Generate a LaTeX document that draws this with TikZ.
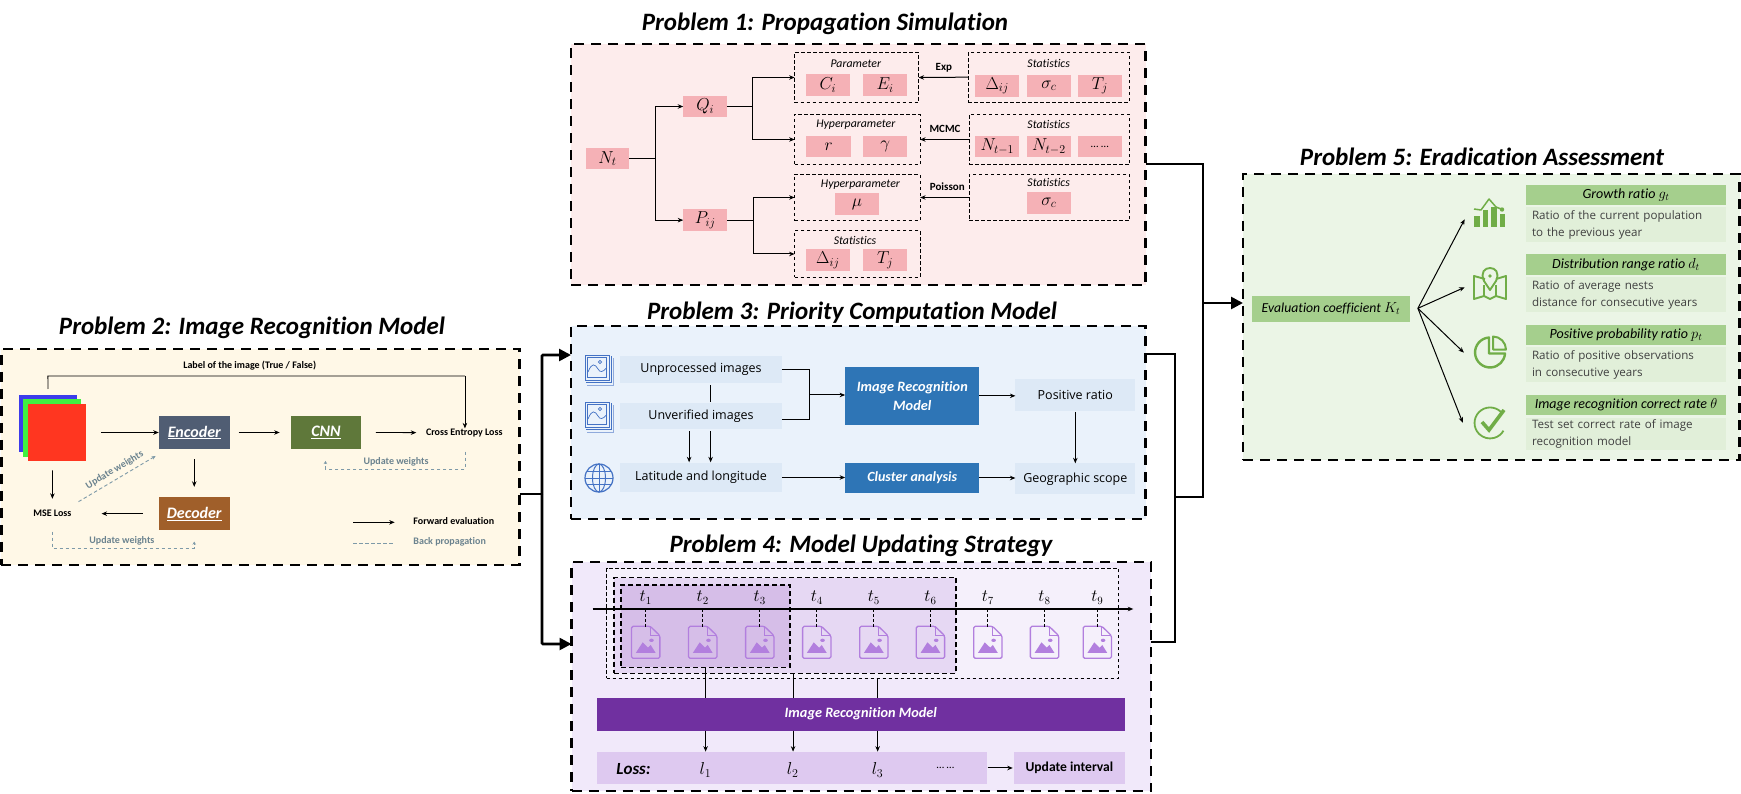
\documentclass[tikz,border=0pt]{standalone}
\usepackage{fontspec}
\setmainfont{Carlito}[Ligatures=NoCommon]
\newfontfamily\bodyf{Open Sans}
\usetikzlibrary{arrows.meta,calc}
\newcommand\fsz[1]{\fontsize{#1}{17}\selectfont}
\def\xf{1}\def\yf{1}
% [style]{name}{x1}{y1}{x2}{y2}{text}
\newcommand\bx[7][]{\node[boxbase,#1,minimum width={(#5-#3)*\xf*1pt},minimum height={(#6-#4)*\yf*1pt}] (#2) at ({(#3+#5)/2},{(#4+#6)/2}) {#7};}
\definecolor{pinkbg}{HTML}{FDECEC}\definecolor{pinkbox}{HTML}{F5B1B6}
\definecolor{yelbg}{HTML}{FFF8E7}\definecolor{blubg}{HTML}{EAF2FB}\definecolor{blulight}{HTML}{DDE9F6}
\definecolor{blubox}{HTML}{2E75B6}\definecolor{purbg}{HTML}{F1E9FA}\definecolor{purbar}{HTML}{7030A0}
\definecolor{purlight}{HTML}{DEC9F0}\definecolor{purmid}{HTML}{E6D8F3}\definecolor{purdark}{HTML}{D6BEE8}
\definecolor{purico}{HTML}{B27FDE}\definecolor{grnbg}{HTML}{EBF5E6}\definecolor{grnbox}{HTML}{A5CF8D}
\definecolor{grnlight}{HTML}{E1EFD9}\definecolor{grnico}{HTML}{70AD47}\definecolor{upd}{HTML}{7E9AA8}
\definecolor{icoblue}{HTML}{4472C4}
\tikzset{
 boxbase/.style={inner sep=0pt,outer sep=0pt,font=\fsz{12}},
 panel/.style={draw=black,line width=2.8pt,dash pattern=on 10pt off 7pt},
 ptitle/.style={inner sep=0pt,font=\fsz{25}\bfseries\itshape},
 pinkb/.style={fill=pinkbox,font=\fsz{16.5}},
 dgrp/.style={draw=black,line width=.9pt,dash pattern=on 3.5pt off 2.5pt},
 glab/.style={inner sep=0pt,font=\fsz{11.8}\itshape},
 arrlab/.style={inner sep=0pt,font=\fsz{11}\bfseries},
 arr/.style={-{Stealth[length=5.5pt,width=4.5pt]},line width=1pt},
 line1/.style={line width=1pt},
 bigline/.style={line width=2.6pt},
 bigarr/.style={bigline,-{Triangle[length=12pt,width=12pt]}},
 updl/.style={draw=upd,line width=.9pt,dash pattern=on 3.5pt off 2.5pt},
 updt/.style={inner sep=0pt,text=upd!85!black,font=\fsz{10}\bfseries},
 small/.style={inner sep=0pt,font=\fsz{10}\bfseries},
 wtitle/.style={text=white,font=\fsz{16}\bfseries\itshape},
 blutxt/.style={fill=blulight,font=\fsz{12.5}\bodyf},
 bluebx/.style={fill=blubox,text=white,align=center,font=\fsz{14.3}\bfseries\itshape},
 grnhead/.style={fill=grnbox,font=\fsz{14}\itshape},
 grnt/.style={fill=grnlight,align=left,text width=188pt,font=\fsz{11.6}\bodyf,text=black!75},
 docicon/.pic={
  \draw[purico,line width=1.3pt,line join=round,rounded corners=1.5pt] (-37,-48) -- (12,-48) -- (37,-20) -- (37,48) -- (-37,48) -- cycle;
  \draw[purico,line width=1.1pt] (12,-48) -- (12,-20) -- (37,-20);
  \fill[purico] (-26,32) -- (-8,0) -- (6,16) -- (13,8) -- (26,32) -- cycle;
  \fill[purico] (15,-6) circle[x radius=6,y radius=5];
 },
 stackicon/.pic={
  \draw[icoblue,line width=.8pt] (-14,-15) rectangle (10,10);
  \draw[icoblue,line width=.6pt] (-11.5,-12.5) rectangle (7.5,7.5);
  \draw[icoblue,line width=.7pt] (12.5,-14) -- (12.5,12.5) -- (-13,12.5);
  \draw[icoblue!60,line width=.7pt] (14.5,-12) -- (14.5,15) -- (-12,15);
  \draw[icoblue,line width=.7pt] (-11,2) .. controls (-7,-8) and (-4,-6) .. (-1,-1) .. controls (1,3) and (4,2) .. (7.5,-2);
  \draw[icoblue,line width=.6pt] (1,-8) circle[radius=1.6];
 },
 globeicon/.pic={
  \draw[icoblue,line width=1.2pt] (0,0) circle[radius=14];
  \draw[icoblue,line width=1pt] (0,0) ellipse[x radius=6.5,y radius=14];
  \draw[icoblue,line width=1pt] (0,-14) -- (0,14) (-14,0) -- (14,0) (-12,-6.5) -- (12,-6.5) (-12,6.5) -- (12,6.5);
 },
 charticon/.pic={
  \foreach \a/\b in {-16/3,-7.5/-3,1/-6,9.5/1}{\fill[grnico] (\a,\b) rectangle ++(5.5,14-\b);}
  \draw[grnico,line width=1.5pt,line join=round] (-16,-4) -- (-9,-3) -- (-1,-14) -- (6,-6) -- (11,-4);
  \fill[grnico] (12,-3.5) circle[radius=2.2];
 },
 mapicon/.pic={
  \draw[grnico,line width=1.9pt,line join=round] (-5,-5) -- (-16,-8) -- (-16,15) -- (-6,12) -- (0,15) -- (6,12) -- (16,15) -- (16,-8) -- (6,-5);
  \draw[grnico,line width=1.6pt] (-6,12) -- (-6,1) (6,12) -- (6,1);
  \draw[grnico,line width=1.9pt,line join=round] (0,6) -- (-6,-3) .. controls (-10,-12) and (-5,-16) .. (0,-16) .. controls (5,-16) and (10,-12) .. (6,-3) -- cycle;
  \fill[grnico] (0,-8) circle[radius=1.8];
 },
 pieicon/.pic={
  \draw[grnico,line width=2.4pt,line join=round] (-1,-15) arc[start angle=266,delta angle=-262,radius=15] -- (-1,1) -- cycle;
  \draw[grnico,line width=2pt,line join=round] (3,-16) -- (3,-3) -- (16,-3) .. controls (16,-10) and (10,-16) .. (3,-16) -- cycle;
 },
 checkicon/.pic={
  \draw[grnico,line width=1.8pt] (11,-11) arc[start angle=-45,delta angle=-285,radius=15.5];
  \draw[grnico,line width=3.6pt,line join=miter] (-8,-1) -- (-1,7) -- (14,-13);
 },
}
\begin{document}
\begin{tikzpicture}[x=1pt,y=-1pt]
\path[use as bounding box] (0,0) rectangle (1741,793);
% panels
\bx[panel,fill=pinkbg]{p1}{571}{44}{1145.5}{285}{}
\bx[panel,fill=yelbg]{p2}{1.4}{349}{519.5}{565}{}
\bx[panel,fill=blubg]{p3}{571}{326}{1145.5}{519}{}
\bx[panel,fill=purbg]{p4}{571.5}{562}{1151}{791}{}
\bx[panel,fill=grnbg]{p5}{1243}{174}{1739.6}{460}{}
\node[ptitle] (t1) at (825,24) {Problem 1: Propagation Simulation};
\node[ptitle] (t2) at (252,328) {Problem 2: Image Recognition Model};
\node[ptitle] (t3) at (852,313) {Problem 3: Priority Computation Model};
\node[ptitle] (t4) at (861,546) {Problem 4: Model Updating Strategy};
\node[ptitle] (t5) at (1482,157) {Problem 5: Eradication Assessment};
% main bus
\coordinate (bj) at (542,494);
\coordinate (bu) at (542,355);
\coordinate (bd) at (542,644);
\draw[bigline] (p2.east |- bj) -- (bj);
\draw[bigarr,rounded corners=1pt] (bj) -- (bu) -- (p3.west |- bu);
\draw[bigarr,rounded corners=1pt] (bj) -- (bd) -- (p4.west |- bd);
\coordinate (c1) at (1203,164);
\coordinate (c2) at (1203,497);
\coordinate (c3) at (1175,497);
\coordinate (c4) at (1175,354);
\coordinate (c5) at (1175,642);
\coordinate (c6) at (1203,303);
\draw[bigline] (p1.east |- c1) -- (c1) -- (c2) -- (c3);
\draw[bigline] (p3.east |- c4) -- (c4) -- (c5) -- (p4.east |- c5);
\draw[bigarr] (c6) -- (p5.west |- c6);

% ---------- P1
\begin{scope}[shift={(560pt,0pt)},x=.3827pt,y=-.3333pt]
\def\xf{.3827}\def\yf{.3333}
\bx[pinkb]{nt}{67}{443}{181}{508}{$N_t$}
\bx[pinkb]{qi}{322}{287}{437}{352}{$Q_i$}
\bx[pinkb]{pij}{322}{628}{437}{693}{$P_{ij}$}
\bx[dgrp]{g1}{613}{157}{937}{308}{}
\bx[dgrp]{g2}{613}{343}{941}{494}{}
\bx[dgrp]{g3}{613}{523}{941}{662}{}
\bx[dgrp]{g4}{613}{692}{941}{832}{}
\bx[dgrp]{s1}{1067}{157}{1488}{306}{}
\bx[dgrp]{s2}{1069}{343}{1488}{494}{}
\bx[dgrp]{s3}{1069}{523}{1488}{662}{}
\node[glab] (l1) at (773,190) {Parameter};
\node[glab] (l2) at (773,374) {Hyperparameter};
\node[glab] (l3) at (785,555) {Hyperparameter};
\node[glab] (l4) at (771,722) {Statistics};
\node[glab] (l5) at (1277,190) {Statistics};
\node[glab] (l6) at (1277,374) {Statistics};
\node[glab] (l7) at (1277,548) {Statistics};
\bx[pinkb]{a1}{642}{222}{758}{287}{$C_i$}
\bx[pinkb]{a2}{792}{222}{907}{287}{$E_i$}
\bx[pinkb]{a3}{644}{407}{760}{472}{$r$}
\bx[pinkb]{a4}{792}{407}{907}{472}{$\gamma$}
\bx[pinkb]{a5}{718}{580}{834}{645}{$\mu$}
\bx[pinkb]{a6}{642}{748}{758}{813}{$\Delta_{ij}$}
\bx[pinkb]{a7}{792}{748}{907}{813}{$T_j$}
\bx[pinkb]{b1}{1085}{225}{1200}{290}{$\Delta_{ij}$}
\bx[pinkb]{b2}{1220}{225}{1335}{290}{$\sigma_c$}
\bx[pinkb]{b3}{1353}{225}{1468}{290}{$T_j$}
\bx[pinkb]{b4}{1085}{407}{1200}{472}{$N_{t-1}$}
\bx[pinkb]{b5}{1220}{407}{1335}{472}{$N_{t-2}$}
\bx[pinkb]{b6}{1353}{407}{1468}{472}{\fsz{11}\dots\ \dots}
\bx[pinkb]{b7}{1220}{576}{1335}{642}{$\sigma_c$}
\coordinate (j1) at (249,476);
\coordinate (j2) at (502,319);
\coordinate (j3) at (505,661);
\draw[line1] (nt.east) -- (nt.east -| j1);
\draw[arr] (nt.east -| j1) |- (qi.west);
\draw[arr] (nt.east -| j1) |- (pij.west);
\draw[line1] (qi.east) -- (qi.east -| j2);
\draw[arr] (qi.east -| j2) |- (g1.west);
\draw[arr] (qi.east -| j2) |- (g2.west);
\draw[line1] (pij.east) -- (pij.east -| j3);
\draw[arr] (pij.east -| j3) |- (g3.west);
\draw[arr] (pij.east -| j3) |- (g4.west);
\draw[arr] (s1.west) -- (g1.east);
\draw[arr] (s2.west) -- (g2.east);
\draw[arr] (s3.west) -- (g3.east);
\node[arrlab] (e1) at (1003,203) {Exp};
\node[arrlab] (e2) at (1006,388) {MCMC};
\node[arrlab] (e3) at (1012,560) {Poisson};
\end{scope}

% ---------- P2
\begin{scope}[shift={(0pt,-300pt)},x=.3444pt,y=-.3333pt]
\def\xf{.3444}\def\yf{.3333}
\bx[fill={rgb,255:red,60;green,60;blue,235}]{blue}{56}{285}{223}{457}{}
\bx[fill={rgb,255:red,64;green,240;blue,64}]{green}{68}{297}{236}{470}{}
\bx[fill={rgb,255:red,255;green,54;blue,32}]{red}{80}{311}{249}{484}{}
\bx{imgs}{56}{285}{249}{484}{}
\bx[fill={rgb,255:red,80;green,93;blue,115},wtitle]{enc}{461}{348}{667}{447}{\underline{Encoder}}
\bx[fill={rgb,255:red,95;green,120;blue,58},wtitle]{cnn}{844}{348}{1049}{447}{\underline{CNN}}
\bx[fill={rgb,255:red,160;green,95;blue,42},wtitle]{dec}{461}{592}{667}{690}{\underline{Decoder}}
\node[small] (ce) at (1348,398) {Cross Entropy Loss};
\node[small] (mse) at (152,640) {MSE Loss};
\node[small] (lab) at (725,197) {Label of the image (True / False)};
\coordinate (tl) at (139,228);
\coordinate (tr) at (1350,228);
\draw[line1,line width=.8pt,shorten <=6pt] (blue.north) -- (tl) -- (tr);
\draw[arr,line width=.8pt] (tr) -- (tr |- ce.north);
\draw[arr,line width=.8pt,shorten <=15pt] (imgs.east |- enc.west) -- (enc.west);
\draw[arr,line width=.8pt,shorten <=9pt,shorten >=11pt] (enc.east) -- (cnn.west);
\draw[arr,line width=.8pt,shorten <=14.5pt,shorten >=9.5pt] (cnn.east) -- (ce.west);
\draw[arr,line width=.8pt,shorten <=10.5pt,shorten >=10.5pt] (enc.south) -- (dec.north);
\draw[arr,line width=.8pt,shorten <=16pt,shorten >=30pt] (dec.west) -- (mse.east |- dec.west);
\draw[arr,line width=.8pt,shorten <=9pt,shorten >=11pt] (imgs.south) -- (mse.north);
\coordinate (u1) at (228,605);\coordinate (u2) at (452,468);
\draw[updl,-{Stealth[length=4pt,width=3.5pt]}] (u1) -- (u2);
\node[updt,rotate=31] (ut1) at (333,510) {Update weights};
\coordinate (u3) at (152,695);\coordinate (u4) at (152,745);\coordinate (u5) at (564,745);\coordinate (u6) at (564,725);
\draw[updl,-{Stealth[length=3pt,width=3.5pt]}] (u3) -- (u4) -- (u5) -- (u6);
\node[updt] (ut2) at (354,723) {Update weights};
\coordinate (u7) at (1350,455);\coordinate (u8) at (1350,507);\coordinate (u9) at (945,507);\coordinate (u10) at (945,483);
\draw[updl,-{Stealth[length=3pt,width=3.5pt]}] (u7) -- (u8) -- (u9) -- (u10);
\node[updt] (ut3) at (1150,485) {Update weights};
\coordinate (f1) at (1026,667);\coordinate (f2) at (1146,667);
\coordinate (f3) at (1026,729);\coordinate (f4) at (1146,729);
\draw[arr,line width=.8pt] (f1) -- (f2);
\draw[updl] (f3) -- (f4);
\node[small,anchor=west] (fe) at (1200,664) {Forward evaluation};
\node[updt,anchor=west] (bp) at (1200,727) {Back propagation};
\end{scope}

% ---------- P3
\begin{scope}[shift={(560pt,-300pt)},x=.3827pt,y=-.3333pt]
\def\xf{.3827}\def\yf{.3333}
\bx[blutxt]{unp}{157}{168}{580}{248}{Unprocessed images}
\bx[blutxt]{unv}{157}{308}{580}{387}{Unverified images}
\bx[blutxt]{lat}{157}{490}{580}{575}{Latitude and longitude}
\bx[blutxt]{pos}{1190}{238}{1503}{333}{Positive ratio}
\bx[blutxt]{geo}{1190}{490}{1503}{583}{Geographic scope}
\bx[bluebx]{irm}{745}{200}{1096}{375}{Image Recognition\\[2pt]Model}
\bx[bluebx,font=\fsz{14}\bfseries\itshape]{clu}{745}{488}{1096}{580}{Cluster analysis}
\coordinate (jn) at (653,285);
\draw[line1,line width=1.1pt] (unp.east) -| (jn);
\draw[line1,line width=1.1pt] ([yshift=-3.3pt]unv.east) -| (jn);
\draw[arr] (jn) -- (jn -| irm.west);
\draw[arr] (irm.east) -- (irm.east -| pos.west);
\draw[arr] (lat.east) -- (lat.east -| clu.west);
\draw[arr] (clu.east) -- (clu.east -| geo.west);
\draw[arr,shorten <=1pt] (pos.south) -- (geo.north);
\draw[line1,shorten <=2.5pt,shorten >=1pt] ([xshift=9.6pt]unp.south) -- ([xshift=9.6pt]unv.north);
\draw[arr,shorten <=2.5pt,shorten >=1pt] ([xshift=-11.9pt]unv.south) -- ([xshift=-11.9pt]lat.north);
\draw[arr,shorten <=2.5pt,shorten >=1pt] ([xshift=9.6pt]unv.south) -- ([xshift=9.6pt]lat.north);
\end{scope}
\pic at (599,370) {stackicon};
\pic at (599,417) {stackicon};
\pic at (599,478) {globeicon};

% ---------- P4
\begin{scope}[shift={(560pt,-550pt)},x=.3827pt,y=-.3333pt]
\def\xf{.3827}\def\yf{.3333}
\tikzset{fatd/.style={draw=black,line width=1.5pt,dash pattern=on 5pt off 3pt}}
\bx[dgrp,fill=purbg!70!white]{w3}{122}{55}{1460}{385}{}
\bx[fatd,fill=purmid]{w2}{141}{83}{1035}{370}{}
\bx[fatd,fill=purdark]{w1}{160}{105}{601}{352}{}
\coordinate (axa) at (85,177);\coordinate (axb) at (1498,177);
\draw[arr,line width=1.2pt] (axa) -- (axb);
\foreach \x/\i in {224/1,373/2,522/3,671/4,820/5,968/6,1118/7,1266/8,1404/9}{
  \node[inner sep=0pt,font=\fsz{16}] (tl\i) at (\x,143) {$t_{\i}$};
  \pic at (\x,277) {docicon};
  \coordinate (tk\i) at (\x,177);
  \coordinate (dc\i) at (\x,230);
  \draw[line width=1pt,dash pattern=on 3pt off 2pt] (tk\i) -- (dc\i);
}
\bx[fill=purbar,text=white,font=\fsz{14.3}\bfseries\itshape]{bar}{97}{443}{1475}{542}{Image Recognition Model}
\bx[fill=purlight]{loss}{97}{605}{1115}{703}{}
\bx[fill=purlight,font=\fsz{13.6}\bfseries]{upi}{1187}{605}{1475}{703}{Update interval}
\node[inner sep=0pt,font=\fsz{17}\bfseries\itshape] (ll) at (192,658) {Loss:};
\node[inner sep=0pt,font=\fsz{18}] (l1n) at (380,660) {$l_1$};
\node[inner sep=0pt,font=\fsz{18}] (l2n) at (608,660) {$l_2$};
\node[inner sep=0pt,font=\fsz{18}] (l3n) at (830,660) {$l_3$};
\node[inner sep=0pt,font=\fsz{11}] (ldots) at (1007,655) {\dots\ \dots};
\coordinate (x2) at (609,370);\coordinate (x3) at (830,385);
\draw[line1] (w1.south) -- (w1.south |- bar.north);
\draw[line1] (x2) -- (x2 |- bar.north);
\draw[line1] (x3) -- (x3 |- bar.north);
\draw[arr] (w1.south |- bar.south) -- (w1.south |- loss.north);
\draw[arr] (x2 |- bar.south) -- (x2 |- loss.north);
\draw[arr] (x3 |- bar.south) -- (x3 |- loss.north);
\draw[arr,shorten <=1pt,shorten >=1.5pt] (loss.east) -- (upi.west);
\end{scope}

% ---------- P5
\begin{scope}[shift={(1140pt,-130pt)},x=.3833pt,y=-.3333pt]
\def\xf{.3833}\def\yf{.3333}
\bx[grnhead,font=\fsz{13.7}\itshape]{ev}{292}{497}{704}{575}{Evaluation coefficient $K_t$}
\bx[grnhead]{h1}{1006}{164}{1530}{224}{Growth ratio $g_t$}
\bx[grnt]{d1}{1006}{232}{1530}{335}{Ratio of the current population\\to the previous year}
\bx[grnhead]{h2}{1006}{373}{1530}{434}{Distribution range ratio $d_t$}
\bx[grnt]{d2}{1006}{442}{1530}{545}{Ratio of average nests\\distance for consecutive years}
\bx[grnhead]{h3}{1006}{584}{1530}{645}{Positive probability ratio $p_t$}
\bx[grnt]{d3}{1006}{652}{1530}{755}{Ratio of positive observations\\in consecutive years}
\bx[grnhead]{h4}{1006}{794}{1530}{855}{Image recognition correct rate $\theta$}
\bx[grnt]{d4}{1006}{863}{1530}{960}{Test set correct rate of image\\recognition model}
\bx{i1}{870}{210}{958}{292}{}
\bx{i2}{870}{415}{958}{508}{}
\bx{i3}{870}{618}{958}{718}{}
\bx{i4}{870}{830}{958}{928}{}
\coordinate (ee) at (725,535);
\coordinate (k1) at (847,268);\coordinate (k2) at (847,472);\coordinate (k3) at (845,668);\coordinate (k4) at (842,878);
\draw[arr] (ee) -- (k1);
\draw[arr] (ee) -- (k2);
\draw[arr] (ee) -- (k3);
\draw[arr] (ee) -- (k4);
\end{scope}
\pic at (1490,213) {charticon};
\pic at (1490,284) {mapicon};
\pic at (1490,352.5) {pieicon};
\pic at (1490,423) {checkicon};
\end{tikzpicture}
\end{document}
